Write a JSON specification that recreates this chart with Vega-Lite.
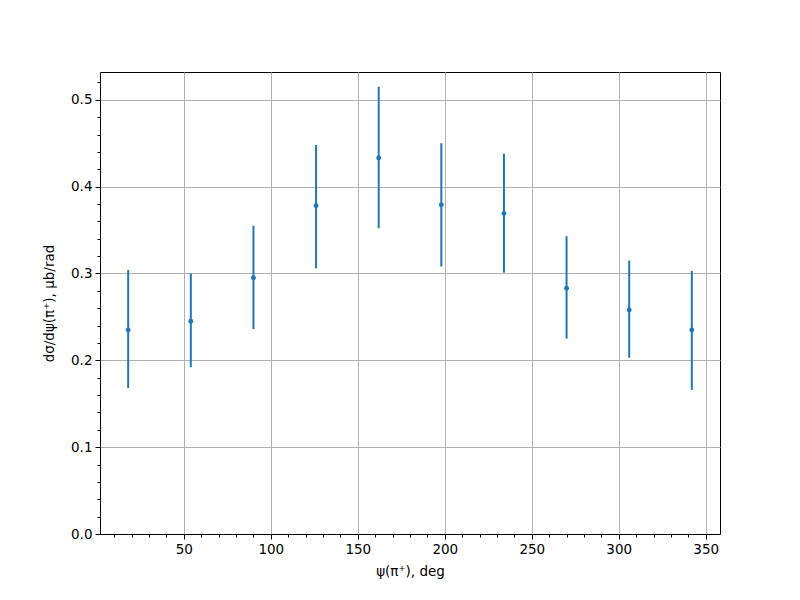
{
  "$schema": "https://vega.github.io/schema/vega-lite/v6.json",
  "width": 620,
  "height": 462,
  "autosize": "none",
  "padding": {"left": 100, "top": 72, "right": 80, "bottom": 66},
  "background": "white",
  "config": {
    "font": "DejaVu Sans",
    "view": {"stroke": "black", "strokeWidth": 1},
    "axis": {
      "labelFont": "DejaVu Sans",
      "labelFontSize": 13.5,
      "labelColor": "black",
      "titleFont": "DejaVu Sans",
      "titleFontSize": 13.5,
      "titleFontWeight": "normal",
      "titleColor": "black",
      "domainColor": "black",
      "tickColor": "black",
      "gridColor": "#b0b0b0",
      "gridWidth": 1,
      "labelPadding": 3,
      "labelOverlap": false
    }
  },
  "data": {
    "values": [
      {"psi": 18, "val": 0.235, "lo": 0.168, "hi": 0.304},
      {"psi": 54, "val": 0.245, "lo": 0.192, "hi": 0.300},
      {"psi": 90, "val": 0.295, "lo": 0.236, "hi": 0.355},
      {"psi": 126, "val": 0.378, "lo": 0.306, "hi": 0.448},
      {"psi": 162, "val": 0.433, "lo": 0.352, "hi": 0.515},
      {"psi": 198, "val": 0.379, "lo": 0.308, "hi": 0.450},
      {"psi": 234, "val": 0.369, "lo": 0.301, "hi": 0.438},
      {"psi": 270, "val": 0.283, "lo": 0.225, "hi": 0.343},
      {"psi": 306, "val": 0.258, "lo": 0.203, "hi": 0.315},
      {"psi": 342, "val": 0.235, "lo": 0.166, "hi": 0.303}
    ]
  },
  "encoding": {
    "x": {
      "field": "psi",
      "type": "quantitative",
      "scale": {"domain": [1.8, 358.2], "nice": false, "zero": false},
      "axis": {
        "title": "ψ(π⁺), deg",
        "values": [10, 20, 30, 40, 50, 60, 70, 80, 90, 100, 110, 120, 130, 140, 150, 160, 170, 180, 190, 200, 210, 220, 230, 240, 250, 260, 270, 280, 290, 300, 310, 320, 330, 340, 350],
        "labelExpr": "datum.value % 50 === 0 ? datum.label : ''",
        "tickSize": {"condition": {"test": "datum.value % 50 === 0", "value": 5}, "value": 3},
        "gridOpacity": {"condition": {"test": "datum.value % 50 === 0", "value": 1}, "value": 0},
        "labelFlush": false,
        "titlePadding": 9
      }
    },
    "y": {
      "field": "val",
      "type": "quantitative",
      "scale": {"domain": [0, 0.532], "nice": false},
      "axis": {
        "title": "dσ/dψ(π⁺), μb/rad",
        "values": [0, 0.02, 0.04, 0.06, 0.08, 0.1, 0.12, 0.14, 0.16, 0.18, 0.2, 0.22, 0.24, 0.26, 0.28, 0.3, 0.32, 0.34, 0.36, 0.38, 0.4, 0.42, 0.44, 0.46, 0.48, 0.5, 0.52],
        "labelExpr": "round(datum.value*100) % 10 === 0 ? format(datum.value, '.1f') : ''",
        "tickSize": {"condition": {"test": "round(datum.value*100) % 10 === 0", "value": 5}, "value": 3},
        "gridOpacity": {"condition": {"test": "round(datum.value*100) % 10 === 0", "value": 1}, "value": 0},
        "labelFlush": false,
        "titlePadding": 14
      }
    }
  },
  "layer": [
    {
      "mark": {"type": "rule", "color": "#1f77b4", "strokeWidth": 2},
      "encoding": {
        "y": {"field": "lo", "type": "quantitative"},
        "y2": {"field": "hi"}
      }
    },
    {
      "mark": {"type": "point", "filled": true, "color": "#1f77b4", "opacity": 1, "size": 24}
    }
  ]
}
